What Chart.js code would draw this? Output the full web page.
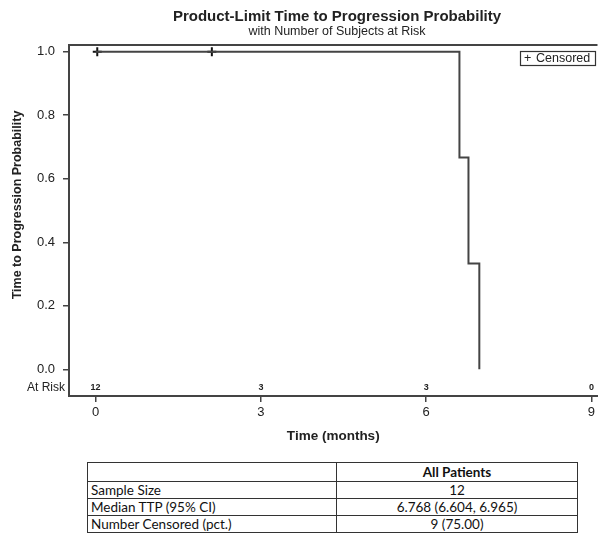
<!DOCTYPE html>
<html>
<head>
<meta charset="utf-8">
<script src="https://cdn.jsdelivr.net/npm/chart.js@4.4.1/dist/chart.umd.min.js"></script>
<style>
  body { margin: 0; background: #fff; }
  #wrap { position: relative; width: 598px; height: 535px; overflow: hidden; }
  #chart { position: absolute; left: 0; top: 0; }
  #stats {
    position: absolute; left: 87px; top: 462px; width: 491px;
    border-collapse: collapse; font-family: Lato, "Open Sans", sans-serif; font-size: 13.5px; color: #111;
  }
  #stats td { border: 1.5px solid #333; padding: 0 3px; height: 16px; line-height: 15px; }
  #stats td.v { text-align: center; }
  #stats tr.h td { height: 18px; font-weight: bold; }
</style>
</head>
<body>
<div id="wrap">
  <canvas id="chart" width="604" height="450"></canvas>
  <table id="stats">
    <tr class="h"><td style="width:242px"></td><td class="v">All Patients</td></tr>
    <tr><td>Sample Size</td><td class="v">12</td></tr>
    <tr><td>Median TTP (95% CI)</td><td class="v">6.768 (6.604, 6.965)</td></tr>
    <tr><td>Number Censored (pct.)</td><td class="v">9 (75.00)</td></tr>
  </table>
</div>
<script>
// Kaplan-Meier step curve
var kmTimes = [0, 6.604, 6.768, 6.965];
var kmSurv = [1, 0.6667, 0.3333, 0];
// censored marks
var censTimes = [0.03, 2.11];
var censSurv = [1, 1];
// at risk row
var riskTimes = [0, 3, 6, 9];
var riskCounts = [12, 3, 3, 0];
// ticks
var xTickValues = [0, 3, 6, 9];
var yTickValues = [0, 0.2, 0.4, 0.6, 0.8, 1.0];

var axisColor = '#444';
var textColor = '#222';
var sans = '"Liberation Sans", Arial, sans-serif';

var kmData = kmTimes.map(function(t, i) { return {x: t, y: kmSurv[i]}; });
var censData = censTimes.map(function(t, i) { return {x: t, y: censSurv[i]}; });

var extras = {
  id: 'extras',
  afterDraw: function(chart) {
    var ctx = chart.ctx;
    var area = chart.chartArea;
    var xs = chart.scales.x;
    ctx.save();

    // top frame line
    ctx.strokeStyle = axisColor;
    ctx.lineWidth = 2;
    ctx.beginPath();
    ctx.moveTo(area.left - 1, area.top);
    ctx.lineTo(area.right, area.top);
    ctx.stroke();

    // titles
    ctx.fillStyle = textColor;
    ctx.textAlign = 'center';
    ctx.textBaseline = 'middle';
    ctx.font = 'bold 15px ' + sans;
    ctx.fillText('Product-Limit Time to Progression Probability', 337, 17);
    ctx.font = '12.5px ' + sans;
    ctx.fillText('with Number of Subjects at Risk', 337, 32);

    // y axis title
    ctx.save();
    ctx.translate(18, 205);
    ctx.rotate(-Math.PI / 2);
    ctx.font = 'bold 12.5px ' + sans;
    ctx.fillText('Time to Progression Probability', 0, 0);
    ctx.restore();

    // at risk row
    var riskY = 388;
    ctx.font = '12px ' + sans;
    ctx.textAlign = 'right';
    ctx.fillText('At Risk', 65, riskY);
    ctx.font = 'bold 9px ' + sans;
    ctx.textAlign = 'center';
    riskTimes.forEach(function(t, i) {
      ctx.fillText(String(riskCounts[i]), xs.getPixelForValue(t), riskY);
    });

    // legend box
    ctx.lineWidth = 1.2;
    ctx.strokeStyle = '#333';
    ctx.strokeRect(520.5, 51.5, 75, 14);
    ctx.font = '12.5px ' + sans;
    ctx.textAlign = 'left';
    ctx.fillText('+', 524, 58.5);
    ctx.fillText('Censored', 536, 58.5);

    ctx.restore();
  }
};

var chart = new Chart(document.getElementById('chart'), {
  type: 'scatter',
  data: {
    datasets: [{
      label: 'Survival',
      data: kmData,
      showLine: true,
      stepped: true,
      borderColor: '#444',
      borderWidth: 2,
      pointRadius: 0,
      fill: false
    }, {
      label: 'Censored',
      data: censData,
      showLine: false,
      pointStyle: 'cross',
      pointRadius: 4.5,
      borderColor: '#111',
      borderWidth: 2
    }]
  },
  options: {
    responsive: false,
    animation: false,
    layout: { padding: { top: 45, left: 0, right: 0, bottom: 0 } },
    plugins: {
      legend: { display: false },
      tooltip: { enabled: false }
    },
    scales: {
      x: {
        type: 'linear',
        min: -0.483,
        max: 9.11,
        afterBuildTicks: function(scale) {
          scale.ticks = xTickValues.map(function(v) { return {value: v}; });
        },
        afterFit: function(scale) { scale.height = 54; },
        ticks: {
          color: textColor,
          padding: 3,
          font: { family: sans, size: 13 },
          maxRotation: 0
        },
        grid: { drawOnChartArea: false, drawTicks: true, tickLength: 6, color: axisColor, lineWidth: 1.5 },
        border: { display: true, color: axisColor, width: 2 },
        title: {
          display: true,
          text: 'Time (months)',
          color: textColor,
          font: { family: sans, size: 13.5, weight: 'bold' },
          padding: { top: 4, bottom: 6 }
        }
      },
      y: {
        type: 'linear',
        min: -0.084,
        max: 1.021,
        afterBuildTicks: function(scale) {
          scale.ticks = yTickValues.map(function(v) { return {value: v}; });
        },
        afterFit: function(scale) { scale.width = 69; },
        ticks: {
          color: textColor,
          padding: 8,
          font: { family: sans, size: 13 },
          callback: function(v) { return v.toFixed(1); }
        },
        grid: { drawOnChartArea: false, drawTicks: true, tickLength: 6, color: axisColor, lineWidth: 1.5 },
        border: { display: true, color: axisColor, width: 2 }
      }
    }
  },
  plugins: [extras]
});
</script>
</body>
</html>
